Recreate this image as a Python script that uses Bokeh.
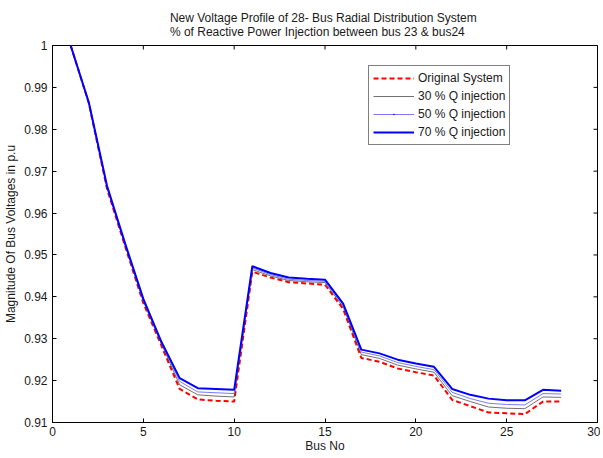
import math
from bokeh.plotting import figure
from bokeh.models import (Range1d, Title, Legend, LegendItem, FixedTicker,
                          ColumnDataSource, CDSView, IndexFilter)
from bokeh.embed import file_html
from bokeh.resources import INLINE

bus = list(range(1, 29))
original = [1.0, 0.9862, 0.9658, 0.9520, 0.9385, 0.9283, 0.9180, 0.9155, 0.9152, 0.9150,
            0.9460, 0.9446, 0.9435, 0.9432, 0.9429, 0.9371, 0.9254, 0.9245, 0.9229, 0.9220,
            0.9212, 0.9154, 0.9139, 0.9124, 0.9122, 0.9120, 0.9150, 0.9150]
q30 = [1.0, 0.9863, 0.9661, 0.9523, 0.9389, 0.9287, 0.9190, 0.9166, 0.9163, 0.9161,
       0.9465, 0.9450, 0.9439, 0.9436, 0.9434, 0.9376, 0.9262, 0.9253, 0.9237, 0.9228,
       0.9220, 0.9164, 0.9150, 0.9137, 0.9134, 0.9133, 0.9161, 0.9160]
q50 = [1.0, 0.9863, 0.9663, 0.9525, 0.9392, 0.9289, 0.9198, 0.9173, 0.9171, 0.9169,
       0.9469, 0.9453, 0.9442, 0.9439, 0.9437, 0.9380, 0.9268, 0.9259, 0.9243, 0.9234,
       0.9226, 0.9172, 0.9157, 0.9146, 0.9143, 0.9142, 0.9169, 0.9168]
q70 = [1.0, 0.9864, 0.9665, 0.9527, 0.9395, 0.9292, 0.9206, 0.9182, 0.9180, 0.9178,
       0.9473, 0.9457, 0.9446, 0.9443, 0.9441, 0.9384, 0.9274, 0.9265, 0.9250, 0.9241,
       0.9233, 0.9180, 0.9166, 0.9157, 0.9153, 0.9153, 0.9178, 0.9176]

x_ticks = [0, 5, 10, 15, 20, 25, 30]
y_ticks = [0.91, 0.92, 0.93, 0.94, 0.95, 0.96, 0.97, 0.98, 0.99, 1.0]
labels = ["Original System", "30 % Q injection", "50 % Q injection", "70 % Q injection"]
title1 = "New  Voltage Profile of 28- Bus Radial Distribution System"
title2 = "% of Reactive Power Injection between bus 23 & bus24"

FONT = "Liberation Sans"
TXT = "#1a1a1a"
FS = "12px"

p = figure(width=600, height=458, output_backend="svg", toolbar_location=None,
           x_range=Range1d(0, 30), y_range=Range1d(0.91, 1.0),
           min_border_left=52, min_border_right=3, min_border_top=45, min_border_bottom=36)
p.background_fill_color = "white"
p.border_fill_color = "white"
p.outline_line_color = "black"
p.outline_line_width = 1
p.xgrid.visible = False
p.ygrid.visible = False

for ax, ticks in ((p.xaxis[0], x_ticks), (p.yaxis[0], y_ticks)):
    ax.ticker = FixedTicker(ticks=ticks)
    ax.major_tick_in = 4
    ax.major_tick_out = 0
    ax.minor_tick_in = 0
    ax.minor_tick_out = 0
    ax.axis_line_color = "black"
    ax.major_tick_line_color = "black"
    ax.major_label_text_font = FONT
    ax.major_label_text_font_size = FS
    ax.major_label_text_color = TXT
    ax.axis_label_text_font = FONT
    ax.axis_label_text_font_size = FS
    ax.axis_label_text_font_style = "normal"
    ax.axis_label_text_color = TXT

p.xaxis[0].axis_label = "Bus No"
p.xaxis[0].major_label_standoff = 4
p.xaxis[0].axis_label_standoff = 0
p.yaxis[0].axis_label = "Magnitude Of Bus Voltages in p.u"
p.yaxis[0].major_label_standoff = 5
p.yaxis[0].axis_label_standoff = 3

# mirrored inward ticks on the top and right edges of the box
top_y = [y_ticks[-1]] * len(x_ticks)
right_x = [x_ticks[-1]] * len(y_ticks)
p.scatter(x_ticks, top_y, marker="dash", size=8, angle=math.pi / 2, line_color="black", line_width=1)
p.scatter(right_x, y_ticks, marker="dash", size=8, line_color="black", line_width=1)

t = Title(text=title1 + "\n" + title2, align="center", text_font=FONT, text_font_size=FS,
          text_font_style="normal", text_color=TXT, text_line_height=1.0, standoff=13)
p.add_layout(t, "above")

r0 = p.line(bus, original, line_color="red", line_width=2, line_dash="5 3")
r1 = p.line(bus, q30, line_color="#333333", line_width=0.7)
r2 = p.line(bus, q50, line_color="#7a7aff", line_width=1)
src50 = ColumnDataSource(data=dict(x=bus, y=q50))
r2m = p.scatter("x", "y", source=src50, view=CDSView(filter=IndexFilter(indices=[0])),
                marker="dot", size=4, fill_color="blue", line_color="blue", line_width=1.5)
r3 = p.line(bus, q70, line_color="#0000ff", line_width=2)

legend = Legend(items=[
    LegendItem(label=labels[0], renderers=[r0]),
    LegendItem(label=labels[1], renderers=[r1]),
    LegendItem(label=labels[2], renderers=[r2, r2m]),
    LegendItem(label=labels[3], renderers=[r3]),
], location=(316, 277))
legend.label_text_font = FONT
legend.label_text_font_size = FS
legend.label_text_color = TXT
legend.glyph_width = 41
legend.glyph_height = 16
legend.label_height = 16
legend.label_standoff = 4
legend.spacing = 2
legend.padding = 4
legend.margin = 0
legend.border_line_color = "black"
legend.border_line_width = 1
legend.background_fill_color = "white"
legend.background_fill_alpha = 1
p.add_layout(legend, "center")

open("out.html", "w").write(file_html(p, INLINE))
